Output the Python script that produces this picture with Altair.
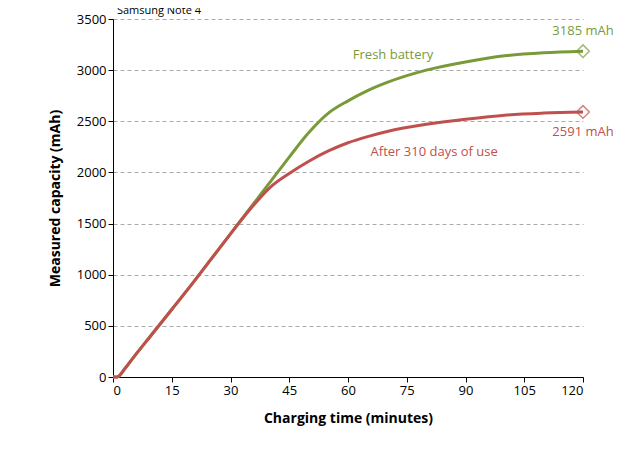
import altair as alt
import pandas as pd

times = [0, 1, 3, 5, 10, 15, 20, 25, 30, 35, 40, 45, 50, 55, 60, 65, 70, 80, 90, 100, 110, 120]
fresh = [0, 0, 80, 180, 420, 660, 900, 1150, 1400, 1650, 1900, 2150, 2390, 2580, 2700, 2800, 2880, 3000, 3080, 3140, 3170, 3185]
used = [0, 0, 80, 180, 420, 660, 900, 1150, 1400, 1640, 1850, 1990, 2110, 2210, 2290, 2350, 2400, 2470, 2520, 2560, 2580, 2591]
series = ["Fresh battery", "After 310 days of use"]
colors = ["#7a9a3a", "#c0504d"]

rows = []
for t, f, u in zip(times, fresh, used):
    rows.append({"t": t, "v": f, "s": series[0]})
    rows.append({"t": t, "v": u, "s": series[1]})
df = pd.DataFrame(rows)

ends = pd.DataFrame({"t": [120, 120], "v": [3185, 2591], "s": series,
                     "lab": ["3185 mAh", "2591 mAh"]})
names = pd.DataFrame({"t": [71.5, 82], "v": [3150, 2200], "s": series})
title = pd.DataFrame({"t": [1], "v": [3580], "lab": ["Samsung Note 4"]})

col = alt.Color("s:N", scale=alt.Scale(domain=series, range=colors), legend=None)
x = alt.X("t:Q", scale=alt.Scale(domain=[0, 120]),
          axis=alt.Axis(values=list(range(0, 121, 15)), title="Charging time (minutes)", grid=False,
                        titlePadding=14, tickSize=5))
y = alt.Y("v:Q", scale=alt.Scale(domain=[0, 3500]),
          axis=alt.Axis(values=list(range(0, 3501, 500)), format="d", title="Measured capacity (mAh)",
                        gridDash=[4, 3], gridColor="#aaaaaa", titlePadding=14, tickSize=5))

lines = alt.Chart(df).mark_line(strokeWidth=3, interpolate="monotone").encode(x=x, y=y, color=col)
pts = alt.Chart(ends).mark_point(shape="diamond", size=160, filled=False, strokeWidth=1.5).encode(x="t:Q", y="v:Q", color=col)
lab1 = alt.Chart(ends.iloc[[0]]).mark_text(dy=-20, fontSize=13, font="Open Sans").encode(x="t:Q", y="v:Q", text="lab:N", color=col)
lab2 = alt.Chart(ends.iloc[[1]]).mark_text(dy=20, fontSize=13, font="Open Sans").encode(x="t:Q", y="v:Q", text="lab:N", color=col)
nm = alt.Chart(names).mark_text(fontSize=13, font="Open Sans").encode(x="t:Q", y="v:Q", text="s:N", color=col)
tt = alt.Chart(title).mark_text(align="left", fontSize=11, font="Open Sans", color="black").encode(x="t:Q", y="v:Q", text="lab:N")

chart = (lines + pts + lab1 + lab2 + nm + tt).properties(
    width=470, height=358, autosize="none",
    padding={"left": 105, "top": 11, "right": 49, "bottom": 74},
).configure_view(stroke=None).configure_axis(
    labelFont="Open Sans", titleFont="Open Sans", labelFontSize=13, titleFontSize=14,
    titleFontWeight="bold", labelColor="black", titleColor="black",
    domainColor="black", tickColor="black",
)
chart.save("out.html", embed_options={"renderer": "svg", "actions": False})
